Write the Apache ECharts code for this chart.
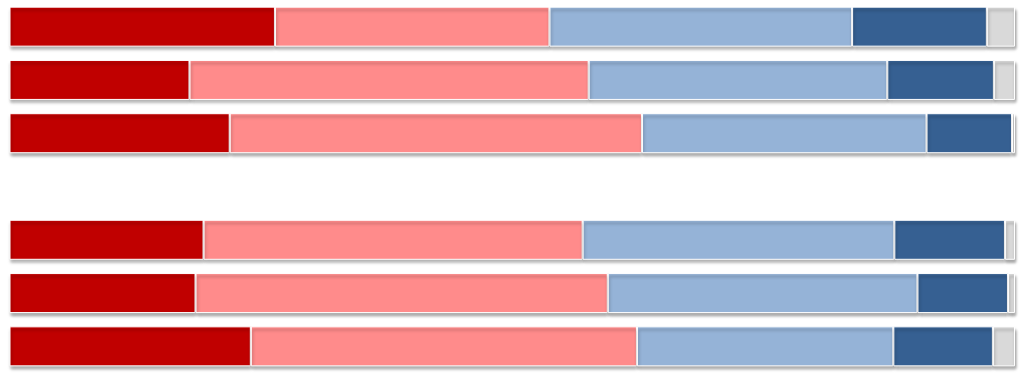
<!DOCTYPE html>
<html>
<head>
    <meta charset="utf-8">
    <title>ECharts</title>
    <script src="https://cdn.jsdelivr.net/npm/echarts@6/dist/echarts.min.js"></script>
    <style>
        html, body { margin: 0; padding: 0; background: #fff; }
    </style>
</head>
<body>
<div id="main" style="width: 1024px;height:378px;"></div>
<script type="text/javascript">
    // 行（第4行为空，用来做两组之间的间隔）
    var categories = ['A1', 'A2', 'A3', '', 'B1', 'B2', 'B3'];
    // 各段百分比
    var seg1 = [26.4, 17.9, 21.9, '-', 19.3, 18.5, 24.0];
    var seg2 = [27.3, 39.7, 41.0, '-', 37.7, 41.0, 38.4];
    var seg3 = [30.1, 29.7, 28.3, '-', 31.0, 30.8, 25.5];
    var seg4 = [13.4, 10.6, 8.5, '-', 11.0, 9.0, 9.9];
    var seg5 = [2.8, 2.1, 0.3, '-', 1.0, 0.7, 2.2];

    var colors = ['#C00000', '#FF8B8B', '#95B3D7', '#366092', '#D9D9D9'];
    var segs = [seg1, seg2, seg3, seg4, seg5];

    var myChart = echarts.init(document.getElementById('main'));

    var seriesData = [];
    for (var i = 0; i < segs.length; i++) {
        seriesData.push({
            type: 'bar',
            stack: 'all',
            barWidth: 40,
            data: segs[i],
            itemStyle: {
                color: colors[i],
                borderColor: '#fff',
                borderWidth: 1,
                shadowColor: 'rgba(0,0,0,0.35)',
                shadowBlur: 3,
                shadowOffsetY: 3,
                shadowOffsetX: 1
            },
            silent: true
        });
    }

    var option = {
        animation: false,
        grid: {
            left: 9.5,
            right: 9,
            top: -3,
            bottom: 5
        },
        xAxis: {
            type: 'value',
            min: 0,
            max: 100,
            show: false
        },
        yAxis: {
            type: 'category',
            data: categories,
            inverse: true,
            show: false
        },
        series: seriesData
    };

    myChart.setOption(option);
</script>
</body>
</html>
